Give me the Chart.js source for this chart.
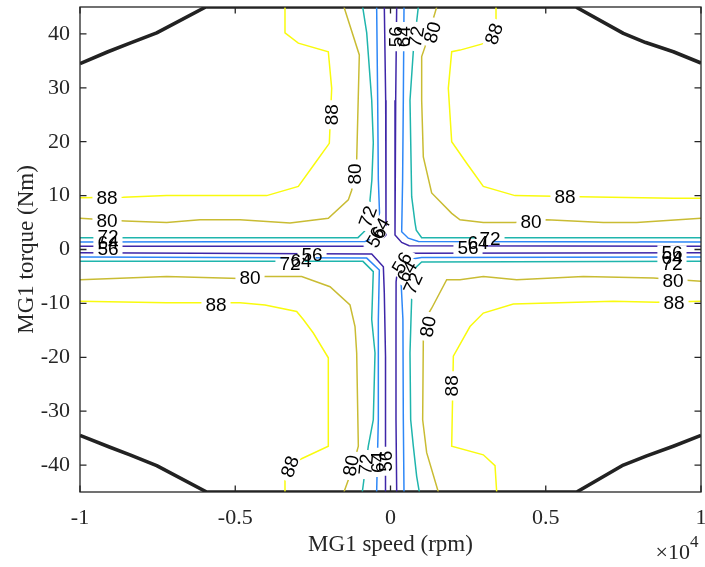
<!DOCTYPE html>
<html><head><meta charset="utf-8">
<script src="https://cdn.jsdelivr.net/npm/chart.js@4.4.1/dist/chart.umd.min.js"></script>
<style>html,body{margin:0;padding:0;background:#fff;}canvas{display:block;}</style>
</head><body>
<canvas id="c" width="705" height="567"></canvas>
<script>
// ---- axis ticks ----
const xTickValues = [-10000, -5000, 0, 5000, 10000];
const xTickLabels = ['-1', '-0.5', '0', '0.5', '1'];
const yTickValues = [-40, -30, -20, -10, 0, 10, 20, 30, 40];
const yTickLabels = ['-40', '-30', '-20', '-10', '0', '10', '20', '30', '40'];

// ---- contour lines: [speed rpm, torque Nm] ----
const c88UL = [[-3398,45],[-3398,40.2],[-2969,38.3],[-2003,36.7],[-1894,29.9],[-1971,19.7],[-2432,16.0],[-2969,11.7],[-3987,10.0],[-4847,10.0],[-7213,10.0],[-8608,9.7],[-10000,9.6]];
const c88UR = [[3398,45],[3398,41],[3043,38.3],[2238,37],[1971,36.7],[1862,29.9],[1971,20.0],[2454,16.0],[2989,11.7],[4010,10.0],[6103,9.8],[9111,9.5],[10000,9.5]];
const c88LL = [[-10000,-9.6],[-7213,-9.9],[-4847,-9.9],[-4042,-10.3],[-3022,-11.5],[-2808,-13],[-2486,-15.5],[-2003,-20.1],[-2003,-36.5],[-2969,-39.1],[-3398,-40.5],[-3398,-45]];
const c88LR = [[10000,-9.6],[8573,-9.8],[7176,-9.6],[3955,-10.1],[2989,-11.8],[2560,-14.3],[2024,-19.8],[1971,-36.5],[2989,-38.1],[3366,-40.1],[3420,-45]];

const c80UL = [[-1498,45],[-1004,36.1],[-1089,16.6],[-1250,11.0],[-1359,9.2],[-2003,5.8],[-3237,4.9],[-4847,5.5],[-6135,5.5],[-7208,5.0],[-8551,5.3],[-10000,5.8]];
const c80UR = [[1488,45],[1111,37.6],[1004,35.8],[1004,27.7],[1057,17.2],[1326,10.5],[1971,6.7],[2238,5.5],[2989,5.0],[4010,5.0],[5030,5.5],[6854,5.0],[7928,5.0],[10000,5.8]];
const c80LL = [[-10000,-5.6],[-7208,-5.0],[-4847,-5.4],[-4042,-5.0],[-2861,-5.0],[-1948,-6.9],[-1304,-10.3],[-1143,-14.3],[-1089,-19.2],[-1036,-36.5],[-1250,-41],[-1498,-45]];
const c80LR = [[10000,-5.9],[8465,-5.3],[6210,-5.0],[4064,-5.6],[2989,-5.0],[2238,-5.6],[1810,-5.6],[1326,-10.9],[1111,-13],[1057,-16.7],[1036,-31.6],[1165,-37.7],[1540,-45]];

const c72UL = [[-896,45],[-766,40.2],[-605,27.7],[-554,19.8],[-600,12.9],[-660,9.2],[-660,4.4],[-886,3.1],[-1047,2.2],[-10000,2.2]];
const c72UR = [[896,45],[735,36.8],[628,27.7],[682,9.8],[789,5],[830,3.6],[1004,2.2],[10000,2.2]];
const c72LL = [[-10000,-2.2],[-888,-2.2],[-554,-4.1],[-605,-13],[-499,-19.2],[-554,-31.6],[-715,-36.5],[-908,-45]];
const c72LR = [[10000,-2.2],[1004,-2.3],[780,-3.5],[700,-6],[660,-13],[628,-19.2],[650,-31.6],[735,-36.5],[843,-42.1],[928,-45]];

const c64UL = [[-446,45],[-413,27.7],[-392,13],[-338,4.3],[-500,2.3],[-821,1.5],[-10000,1.4]];
const c64UR = [[435,45],[413,27.7],[390,13],[360,3.3],[573,2.1],[900,1.5],[10000,1.4]];
const c64LL = [[-10000,-1.4],[-766,-1.6],[-360,-3.8],[-392,-13],[-392,-31.6],[-446,-45]];
const c64LR = [[10000,-1.4],[1000,-1.5],[650,-1.8],[400,-3.2],[340,-6],[400,-13],[413,-31.6],[435,-45]];

const c56UL = [[-199,45],[-155,27.7],[-145,10],[-145,2.7],[-446,0.9],[-800,0.6],[-10000,0.6]];
const c56UR = [[199,45],[167,27.7],[145,10],[145,2.7],[360,1.3],[600,0.7],[10000,0.6]];
const c56LL = [[-10000,-0.6],[-605,-0.85],[-230,-3.2],[-200,-8],[-160,-20],[-145,-31.6],[-177,-45]];
const c56LR = [[10000,-0.6],[682,-0.7],[420,-1.2],[230,-3.5],[180,-6],[177,-13],[177,-31.6],[200,-45]];

// ---- max torque envelope ----
const envTop = [[-10000,34.5],[-9100,36.7],[-8390,38.3],[-7530,40.2],[-5950,45],[5970,45],[7500,40.1],[8220,38.4],[9110,36.7],[10000,34.6]];
const envBottom = [[-10000,-34.5],[-9034,-36.7],[-8390,-38.1],[-7530,-40.1],[-5920,-45],[5997,-45],[7498,-40.0],[8251,-38.3],[9108,-36.5],[10000,-34.5]];

// ---- contour labels ----
const labelText   = ['88','80','72','64','56','88','80','72','64','56','56','64','72','80','88','88','80','56','64','72','56','64','72','80','88','80','88','72','64','56','56','64','72','80','88','88','80','72','64','56'];
const labelSpeed  = [-9130,-9130,-9100,-9100,-9100,-1900,-1160,-725,-338,-451,185,425,830,1350,3333,5620,4525,2496,2818,3204,9065,9065,9065,9098,9130,-4525,-5620,-3237,-2882,-2528,370,531,725,1208,1980,-3237,-1272,-789,-403,-145];
const labelTorque = [9.6,5.4,2.35,1.24,0.13,25,14,6.1,3.9,2.3,39.5,39.5,39.5,40.3,40,9.8,5.2,0.3,1.24,1.98,-0.52,-1.45,-2.65,-5.8,-9.9,-5.3,-10.25,-2.56,-2.1,-0.9,-2.5,-4.1,-6.3,-14.3,-25.3,-40.3,-40.1,-39.9,-39.5,-39.3];
const labelAngle  = [0,0,0,0,0,-90,-90,-70,-60,-60,-90,-90,-80,-75,-70,0,0,0,0,0,0,0,0,0,0,0,0,0,0,0,-60,-60,-65,-80,-90,-70,-80,-85,-90,-90];

// ---- styles ----
const levelColor = {56:'#3e26a8', 64:'#2d87f7', 72:'#1fb5ad', 80:'#c9bc33', 88:'#f9fb0e'};
const axisColor = '#262626';
const serif = "'Liberation Serif','Times New Roman',serif";
const sans = "'Liberation Sans',Arial,sans-serif";

const curves = [
  [88,c88UL],[88,c88UR],[88,c88LL],[88,c88LR],
  [80,c80UL],[80,c80UR],[80,c80LL],[80,c80LR],
  [72,c72UL],[72,c72UR],[72,c72LL],[72,c72LR],
  [64,c64UL],[64,c64UR],[64,c64LL],[64,c64LR],
  [56,c56UL],[56,c56UR],[56,c56LL],[56,c56LR]
];
const datasets = curves.map(([lvl, pts]) => ({
  level: lvl,
  data: pts.map(p => ({x:p[0], y:p[1]})),
  showLine: true, borderColor: levelColor[lvl], borderWidth: 1.5,
  pointRadius: 0, tension: 0, fill: false
}));
[envTop, envBottom].forEach(pts => datasets.push({
  data: pts.map(p => ({x:p[0], y:p[1]})),
  showLine: true, borderColor: '#222222', borderWidth: 3.6,
  pointRadius: 0, tension: 0, fill: false, borderJoinStyle: 'round'
}));

const LABEL_FONT = '19px ' + sans;

function labelBoxes(chart, lvl) {
  const xs = chart.scales.x, ys = chart.scales.y, ctx = chart.ctx;
  const out = [];
  ctx.save(); ctx.font = LABEL_FONT;
  for (let i = 0; i < labelText.length; i++) {
    if (Number(labelText[i]) !== lvl) continue;
    const cx = xs.getPixelForValue(labelSpeed[i]);
    const cy = ys.getPixelForValue(labelTorque[i]);
    const w = ctx.measureText(labelText[i]).width + 8;
    const h = 14;
    out.push({cx, cy, w, h, a: labelAngle[i] * Math.PI / 180});
  }
  ctx.restore();
  return out;
}

const contourPlugin = {
  id: 'contourLabels',
  beforeDatasetDraw(chart, args) {
    const ds = chart.data.datasets[args.index];
    if (ds.level == null) return;
    const ctx = chart.ctx;
    ctx.save();
    ctx.beginPath();
    ctx.rect(0, 0, chart.width, chart.height);
    labelBoxes(chart, ds.level).forEach(b => {
      const c = Math.cos(b.a), s = Math.sin(b.a);
      const pts = [[-b.w/2,-b.h/2],[b.w/2,-b.h/2],[b.w/2,b.h/2],[-b.w/2,b.h/2]]
        .map(([u,v]) => [b.cx + u*c - v*s, b.cy + u*s + v*c]);
      ctx.moveTo(pts[0][0], pts[0][1]);
      for (let k = 1; k < 4; k++) ctx.lineTo(pts[k][0], pts[k][1]);
      ctx.closePath();
    });
    ctx.clip('evenodd');
    ds._clipped = true;
  },
  afterDatasetDraw(chart, args) {
    const ds = chart.data.datasets[args.index];
    if (ds._clipped) { chart.ctx.restore(); ds._clipped = false; }
  },
  afterDatasetsDraw(chart) {
    const ctx = chart.ctx, xs = chart.scales.x, ys = chart.scales.y;
    ctx.save();
    ctx.font = LABEL_FONT;
    ctx.fillStyle = '#000';
    ctx.textAlign = 'center';
    ctx.textBaseline = 'middle';
    for (let i = 0; i < labelText.length; i++) {
      ctx.save();
      ctx.translate(xs.getPixelForValue(labelSpeed[i]), ys.getPixelForValue(labelTorque[i]));
      ctx.rotate(labelAngle[i] * Math.PI / 180);
      ctx.fillText(labelText[i], 0, 1);
      ctx.restore();
    }
    ctx.restore();
  },
  afterDraw(chart) {
    const ctx = chart.ctx, xs = chart.scales.x, ys = chart.scales.y;
    const {left, right, top, bottom} = chart.chartArea;
    ctx.save();
    ctx.strokeStyle = axisColor;
    ctx.lineWidth = 1.3;
    ctx.strokeRect(left, top, right - left, bottom - top);
    ctx.beginPath();
    const tl = 6.5;
    xTickValues.forEach(v => {
      const p = xs.getPixelForValue(v);
      ctx.moveTo(p, bottom); ctx.lineTo(p, bottom - tl);
      ctx.moveTo(p, top); ctx.lineTo(p, top + tl);
    });
    yTickValues.forEach(v => {
      const p = ys.getPixelForValue(v);
      ctx.moveTo(left, p); ctx.lineTo(left + tl, p);
      ctx.moveTo(right, p); ctx.lineTo(right - tl, p);
    });
    ctx.stroke();
    // x10^4 exponent
    ctx.fillStyle = axisColor;
    ctx.textBaseline = 'alphabetic';
    ctx.textAlign = 'right';
    ctx.font = '22px ' + serif;
    ctx.fillText('\u00d710', 690, 559);
    ctx.textAlign = 'left';
    ctx.font = '17px ' + serif;
    ctx.fillText('4', 690, 547);
    ctx.restore();
  }
};

new Chart(document.getElementById('c'), {
  type: 'scatter',
  data: { datasets },
  plugins: [contourPlugin],
  options: {
    responsive: false, animation: false, devicePixelRatio: 1,
    layout: { padding: { left: 0, right: 4, top: 7, bottom: 0 } },
    plugins: { legend: { display: false }, tooltip: { enabled: false } },
    scales: {
      x: {
        type: 'linear', min: -10000, max: 10000,
        afterBuildTicks: s => { s.ticks = xTickValues.map(v => ({value: v})); },
        afterFit: s => { s.height = 75; s.paddingLeft = 0; s.paddingRight = 0; },
        grid: { display: false, drawTicks: false }, border: { display: false },
        ticks: { autoSkip: false, maxRotation: 0, padding: 13, color: axisColor,
          font: { family: serif, size: 22 },
          callback: (v, i) => xTickLabels[i] },
        title: { display: true, text: 'MG1 speed (rpm)', color: axisColor,
          font: { family: serif, size: 23 }, padding: { top: 0, bottom: 8 } }
      },
      y: {
        type: 'linear', min: -45, max: 45,
        afterBuildTicks: s => { s.ticks = yTickValues.map(v => ({value: v})); },
        afterFit: s => { s.width = 80; s.paddingTop = 0; s.paddingBottom = 0; },
        grid: { display: false, drawTicks: false }, border: { display: false },
        ticks: { autoSkip: false, padding: 10, color: axisColor,
          font: { family: serif, size: 22 },
          callback: (v, i) => yTickLabels[i] },
        title: { display: true, text: 'MG1 torque (Nm)', color: axisColor,
          font: { family: serif, size: 23 }, padding: { top: 13, bottom: 0 } }
      }
    }
  }
});
</script>
</body></html>
